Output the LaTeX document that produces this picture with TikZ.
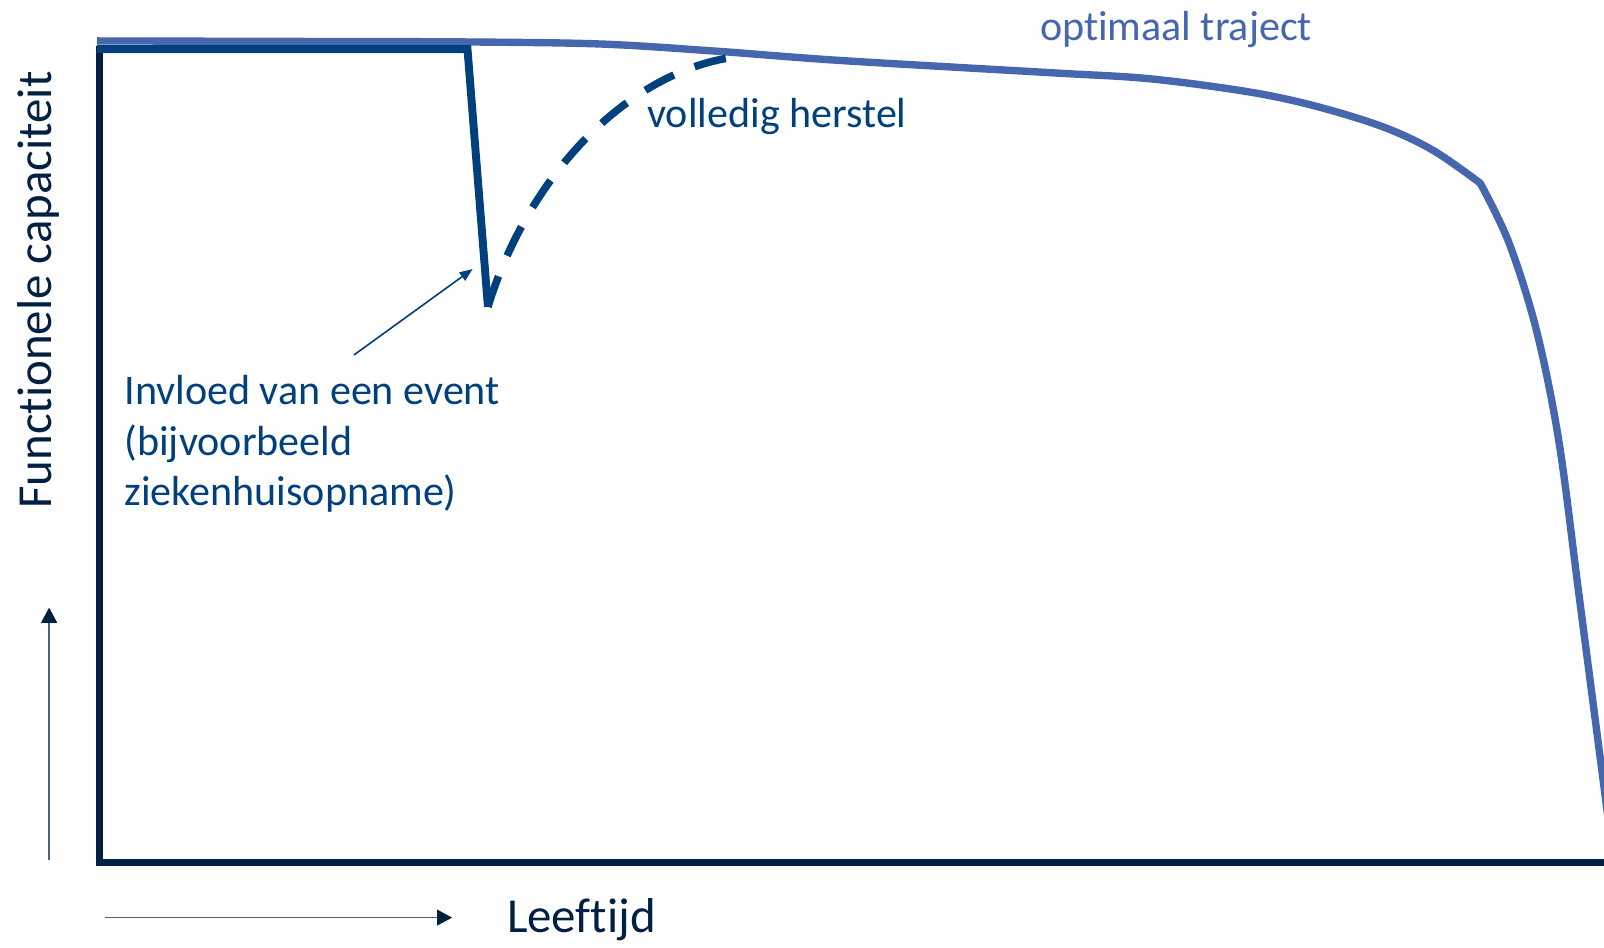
\documentclass[tikz,border=0pt]{standalone}
\usepackage{fontspec}
\setmainfont{Carlito}[Ligatures={NoCommon}]
\usetikzlibrary{arrows.meta}
\definecolor{lightcurve}{RGB}{70,102,174}
\definecolor{evblue}{RGB}{0,65,125}
\definecolor{navy}{RGB}{2,32,66}
\begin{document}
\begin{tikzpicture}[x=0.01cm,y=-0.01cm,
  axisline/.style={navy, line width=1.95pt, line join=miter},
  optline/.style={lightcurve, line width=2.05pt, line join=round},
  eventline/.style={evblue, line width=2.2pt, line join=miter},
  recoverline/.style={evblue, line width=2.1pt, dash pattern=on 9pt off 6.2pt},
  thinarrow/.style={navy!70!white, line width=0.45pt, -{Triangle[length=4.2pt,width=4.4pt,color=navy]}},
  ptrarrow/.style={evblue, line width=0.45pt, -{Triangle[length=3.6pt,width=2.8pt]}},
  lbl/.style={inner sep=0pt, anchor=base west, font=\fontsize{11.7pt}{14.1pt}\selectfont},
  axlbl/.style={inner sep=0pt, anchor=base west, font=\fontsize{13.6pt}{16pt}\selectfont, text=navy}
]
\useasboundingbox (0,0) rectangle (1568,926);
% axes
\coordinate (otop) at (97,45);
\coordinate (ocorner) at (97,843);
\coordinate (xend) at (1572,843);
\draw[axisline] (otop) -- (ocorner) -- (xend);
% optimal trajectory
\draw[optline] plot[smooth, tension=0.55] coordinates {(95,40) (300,40.5) (457,41) (587,43) (700,50) (820,59) (1026,71) (1124,77) (1222,90) (1287,104) (1352,124) (1401,147) (1447,179)}
  -- plot[smooth, tension=0.55] coordinates {(1447,179) (1475,237) (1502,323) (1524,432) (1544,585) (1572,800)};
% event path
\coordinate (evstart) at (95,48);
\coordinate (evcorner) at (457,48);
\coordinate (evlow) at (477,300);
\coordinate (recend) at (716,56);
\draw[eventline] (evstart) -- (evcorner) -- (evlow);
\draw[recoverline] (evlow) .. controls (515,175) and (610,72) .. (recend);
% pointer arrow
\coordinate (ptrtail) at (346,347);
\coordinate (ptrtip) at (462,263);
\draw[ptrarrow] (ptrtail) -- (ptrtip);
% axis direction arrows
\coordinate (upfrom) at (48,841);
\coordinate (upto) at (48,594);
\coordinate (rtfrom) at (103,897);
\coordinate (rtto) at (442,897);
\draw[thinarrow] (upfrom) -- (upto);
\draw[thinarrow] (rtfrom) -- (rtto);
% labels
\node[lbl, text=lightcurve] (opt) at (1016,40) {optimaal traject};
\node[lbl, text=evblue] (herstel) at (632,125) {volledig herstel};
\node[lbl, text=evblue] (inv1) at (121,395) {Invloed van een event};
\node[lbl, text=evblue] (inv2) at (121,445) {(bijvoorbeeld};
\node[lbl, text=evblue] (inv3) at (121,494) {ziekenhuisopname)};
\node[axlbl] (xlbl) at (495,912) {Leeftijd};
\node[axlbl, rotate=90] (ylbl) at (50,498) {Functionele capaciteit};
\end{tikzpicture}
\end{document}
